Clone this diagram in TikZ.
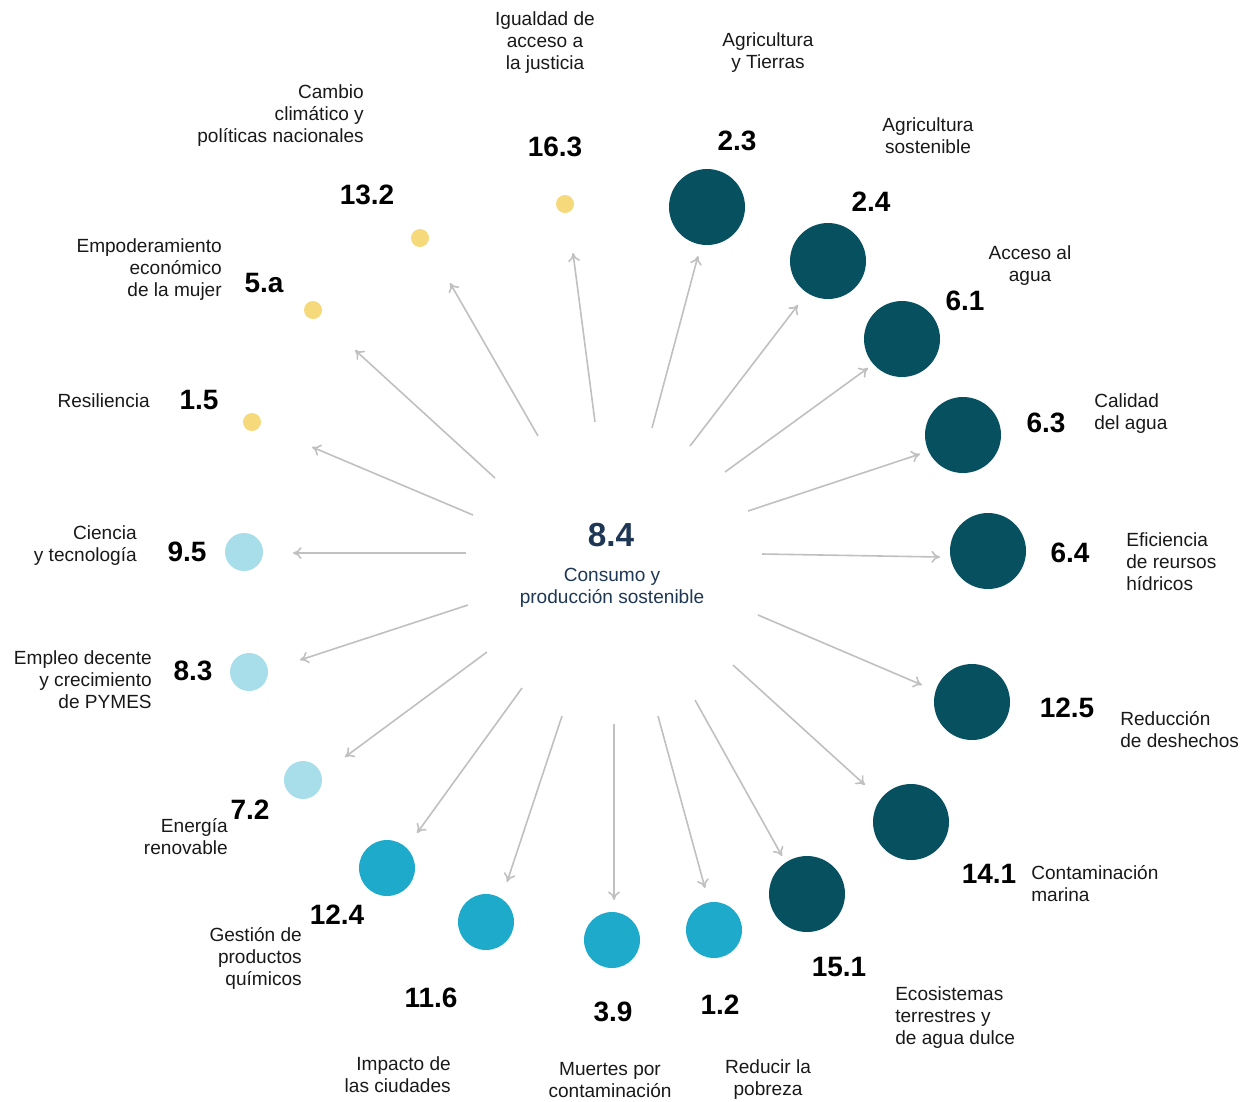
\documentclass[tikz,border=0pt]{standalone}
\usepackage{fontspec}
\setmainfont{Liberation Sans}
\usetikzlibrary{arrows.meta}
\definecolor{cdark}{RGB}{6,80,96}
\definecolor{cmid}{RGB}{30,170,203}
\definecolor{clight}{RGB}{168,222,234}
\definecolor{cyel}{RGB}{245,217,123}
\definecolor{cnavy}{RGB}{30,55,85}
\definecolor{carr}{RGB}{192,192,192}
\tikzset{
  arr/.style={draw=carr,line width=1.2pt,-{To[length=6.5pt,width=9pt]}},
  dot/.style={circle,inner sep=0pt,minimum size=#1*1.5pt},
  num/.style={font=\fontsize{21}{24}\selectfont\bfseries,text=black,inner sep=0pt,yshift=-1.2pt},
  lab/.style={font=\fontsize{14.3}{16.5}\selectfont,text=black!90,inner sep=0pt,align=#1,yshift=-1.2pt},
}
\begin{document}
\begin{tikzpicture}[x=0.75pt,y=-0.75pt]
\useasboundingbox (0,0) rectangle (1241,1101);
% center
\node[font=\fontsize{25}{28}\selectfont\bfseries,text=cnavy,inner sep=0pt,yshift=-1.2pt] (cnum) at (611,533) {8.4};
\node[font=\fontsize{14.3}{16.5}\selectfont,text=cnavy,inner sep=0pt,align=center,yshift=-1.2pt] (ctext) at (612,586) {Consumo y\\producción sostenible};
% circles
\node[dot=9,fill=cyel] (c1) at (565,204) {};
\node[dot=38,fill=cdark] (c2) at (707,207) {};
\node[dot=38,fill=cdark] (c3) at (828,261) {};
\node[dot=38,fill=cdark] (c4) at (902,339) {};
\node[dot=38,fill=cdark] (c5) at (963,435) {};
\node[dot=38,fill=cdark] (c6) at (988,551) {};
\node[dot=38,fill=cdark] (c7) at (972,702) {};
\node[dot=38,fill=cdark] (c8) at (911,822) {};
\node[dot=38,fill=cdark] (c9) at (807,894) {};
\node[dot=28,fill=cmid] (c10) at (714,930) {};
\node[dot=28,fill=cmid] (c11) at (612,940) {};
\node[dot=28,fill=cmid] (c12) at (486,922) {};
\node[dot=28,fill=cmid] (c13) at (387,868) {};
\node[dot=19,fill=clight] (c14) at (303,780) {};
\node[dot=19,fill=clight] (c15) at (249,672) {};
\node[dot=19,fill=clight] (c16) at (244,552) {};
\node[dot=9,fill=cyel] (c17) at (252,422) {};
\node[dot=9,fill=cyel] (c18) at (313,310) {};
\node[dot=9,fill=cyel] (c19) at (420,238) {};
% arrow endpoints
\coordinate (s1) at (595,422);  \coordinate (e1) at (573,253);
\coordinate (s2) at (652,428);  \coordinate (e2) at (698,256);
\coordinate (s3) at (690,446);  \coordinate (e3) at (798,305);
\coordinate (s4) at (725,472);  \coordinate (e4) at (868,368);
\coordinate (s5) at (748,511);  \coordinate (e5) at (920,454);
\coordinate (s6) at (762,554);  \coordinate (e6) at (940,557);
\coordinate (s7) at (758,615);  \coordinate (e7) at (922,685);
\coordinate (s8) at (733,665);  \coordinate (e8) at (865,785);
\coordinate (s9) at (695,700);  \coordinate (e9) at (782,856);
\coordinate (s10) at (658,716); \coordinate (e10) at (705,888);
\coordinate (s11) at (614,724); \coordinate (e11) at (614,900);
\coordinate (s12) at (562,716); \coordinate (e12) at (507,882);
\coordinate (s13) at (522,688); \coordinate (e13) at (417,833);
\coordinate (s14) at (487,652); \coordinate (e14) at (345,757);
\coordinate (s15) at (468,605); \coordinate (e15) at (300,660);
\coordinate (s16) at (466,553); \coordinate (e16) at (293,553);
\coordinate (s17) at (473,515); \coordinate (e17) at (312,447);
\coordinate (s18) at (495,478); \coordinate (e18) at (355,350);
\coordinate (s19) at (538,436); \coordinate (e19) at (450,283);
\foreach \i in {1,...,19}{\draw[arr] (s\i) -- (e\i);}
% numbers
\node[num] (n1) at (555,145) {16.3};
\node[num] (n2) at (737,139) {2.3};
\node[num] (n3) at (871,200) {2.4};
\node[num] (n4) at (965,299) {6.1};
\node[num] (n5) at (1046,421) {6.3};
\node[num] (n6) at (1070,551) {6.4};
\node[num] (n7) at (1067,706) {12.5};
\node[num] (n8) at (989,872) {14.1};
\node[num] (n9) at (839,965) {15.1};
\node[num] (n10) at (720,1003) {1.2};
\node[num] (n11) at (613,1010) {3.9};
\node[num] (n12) at (431,996) {11.6};
\node[num] (n13) at (337,913) {12.4};
\node[num] (n14) at (250,808) {7.2};
\node[num] (n15) at (193,669) {8.3};
\node[num] (n16) at (187,550) {9.5};
\node[num] (n17) at (199,398) {1.5};
\node[num] (n18) at (264,281) {5.a};
\node[num] (n19) at (367,193) {13.2};
% labels
\node[lab=center] (l1) at (545,41) {Igualdad de\\acceso a\\la justicia};
\node[lab=center] (l2) at (768,51) {Agricultura\\y Tierras};
\node[lab=center] (l3) at (928,134) {Agricultura\\sostenible};
\node[lab=center] (l4) at (1030,264) {Acceso al\\agua};
\node[lab=left,anchor=west] (l5) at (1094,412) {Calidad\\del agua};
\node[lab=left,anchor=west] (l6) at (1126,560) {Eficiencia\\de reursos\\hídricos};
\node[lab=left,anchor=west] (l7) at (1120,728) {Reducción\\de deshechos};
\node[lab=left,anchor=west] (l8) at (1031,882) {Contaminación\\marina};
\node[lab=left,anchor=west] (l9) at (895,1016) {Ecosistemas\\terrestres y\\de agua dulce};
\node[lab=center] (l10) at (768,1078) {Reducir la\\pobreza};
\node[lab=center] (l11) at (610,1078.5) {Muertes por\\contaminación};
\node[lab=right,anchor=east] (l12) at (451,1073) {Impacto de\\las ciudades};
\node[lab=right,anchor=east] (l13) at (302,957) {Gestión de\\productos\\químicos};
\node[lab=right,anchor=east] (l14) at (228,835) {Energía\\renovable};
\node[lab=right,anchor=east] (l15) at (152,678) {Empleo decente\\y crecimiento\\de PYMES};
\node[lab=right,anchor=east] (l16) at (137,544) {Ciencia\\y tecnología};
\node[lab=right,anchor=east] (l17) at (150,399) {Resiliencia};
\node[lab=right,anchor=east] (l18) at (222,268) {Empoderamiento\\económico\\de la mujer};
\node[lab=right,anchor=east] (l19) at (364,114) {Cambio\\climático y\\políticas nacionales};
\end{tikzpicture}
\end{document}
